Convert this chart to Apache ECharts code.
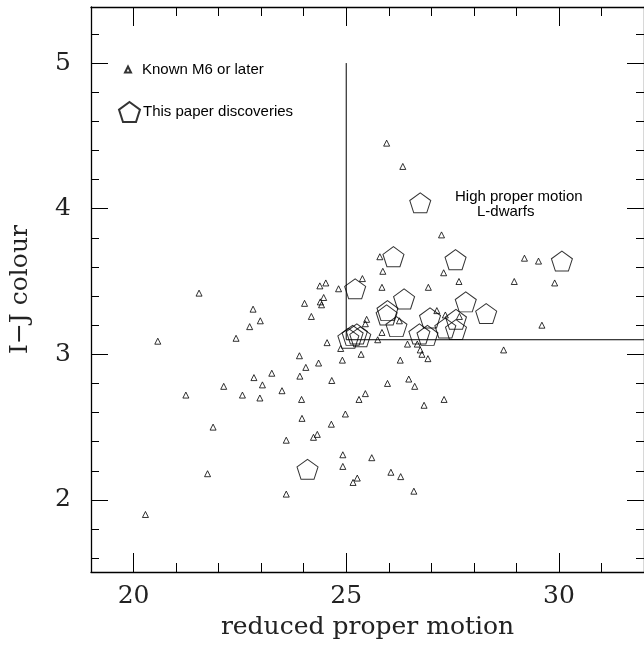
<!DOCTYPE html>
<html>
<head>
<meta charset="utf-8">
<script src="https://cdn.jsdelivr.net/npm/echarts@6/dist/echarts.min.js"></script>
<style>
  html, body { margin: 0; padding: 0; background: #fff; }
  #chart { width: 644px; height: 645px; }
</style>
</head>
<body>
<div id="chart"></div>
<script>
// Known late-M dwarfs: reduced proper motion vs I-J colour
const knownRPM = [21.54, 20.57, 22.81, 22.73, 22.98, 22.41, 24.38, 24.52, 24.82, 24.02,
  24.47, 24.39, 24.42, 24.18, 24.55, 24.87, 23.90, 24.05, 24.35, 23.91,
  23.25, 22.83, 23.03, 22.12, 21.23, 22.56, 22.97, 23.49, 23.95, 24.66,
  24.91, 25.35, 25.45, 25.30, 24.98, 24.65, 23.96, 21.87, 24.32, 24.23,
  25.38, 25.48, 25.45, 23.59, 24.92, 24.92, 25.60, 26.05, 25.16, 25.26,
  21.74, 23.59, 20.28, 25.84, 25.74, 26.44, 26.67, 26.74, 26.78, 26.92,
  26.27, 26.47, 26.61, 25.97, 26.83, 27.30, 28.70, 26.28, 26.59, 25.95,
  26.33, 27.24, 25.79, 25.86, 27.29, 27.65, 25.84, 26.93, 28.95, 29.19,
  29.52, 29.90, 29.60, 27.13, 27.66, 27.33, 26.25];
const knownIJ = [3.42, 3.09, 3.31, 3.19, 3.23, 3.11, 3.47, 3.49, 3.45, 3.35,
  3.39, 3.36, 3.34, 3.26, 3.08, 3.04, 2.99, 2.91, 2.94, 2.85,
  2.87, 2.84, 2.79, 2.78, 2.72, 2.72, 2.70, 2.75, 2.69, 2.82,
  2.96, 3.00, 2.73, 2.69, 2.59, 2.52, 2.56, 2.50, 2.45, 2.43,
  3.52, 3.24, 3.21, 2.41, 2.31, 2.23, 2.29, 2.19, 2.12, 2.15,
  2.18, 2.04, 1.90, 3.15, 3.10, 3.07, 3.07, 3.03, 3.00, 2.97,
  2.96, 2.83, 2.78, 2.80, 2.65, 2.69, 3.03, 2.16, 2.06, 4.45,
  4.29, 3.82, 3.67, 3.57, 3.56, 3.50, 3.46, 3.46, 3.50, 3.66,
  3.64, 3.49, 3.20, 3.30, 3.26, 3.27, 3.23];

// New discoveries
const newRPM = [24.09, 26.74, 26.11, 27.57, 30.07, 25.21, 26.36, 25.97, 25.95, 27.81,
  28.29, 26.18, 26.97, 26.72, 26.91, 27.33, 27.58, 27.58, 25.05, 25.15,
  25.25, 25.33];
const newIJ = [2.21, 4.04, 3.67, 3.65, 3.64, 3.45, 3.38, 3.30, 3.27, 3.36,
  3.28, 3.19, 3.25, 3.14, 3.13, 3.18, 3.24, 3.17, 3.11, 3.13,
  3.14, 3.12];

// Selection boundary: vertical at RPM = 25 up to I-J = 5, horizontal at I-J = 3.1
const cutRPM = [25, 25, 32];
const cutIJ = [5, 3.1, 3.1];

const xMajor = [20, 25, 30];
const xMinor = [20, 21, 22, 23, 24, 25, 26, 27, 28, 29, 30, 31];
const yMajor = [2, 3, 4, 5];
const yMinor = [1.6, 1.8, 2, 2.2, 2.4, 2.6, 2.8, 3, 3.2, 3.4, 3.6, 3.8, 4, 4.2, 4.4, 4.6, 4.8, 5, 5.2];

const zip = (a, b) => a.map((v, i) => [v, b[i]]);

const pentagon = 'path://M0,-100 L95.1,-30.9 L58.8,80.9 L-58.8,80.9 L-95.1,-30.9 Z';
const serif = 'DejaVu Serif';
const sans = 'Liberation Sans';

const X_MIN = 19, X_MAX = 32, Y_MIN = 1.505, Y_MAX = 5.385;

function xAxisDef(pos, ticks, len, withLine, labels) {
  return {
    type: 'value', position: pos, min: X_MIN, max: X_MAX,
    axisLine: { show: withLine, onZero: false, lineStyle: { color: '#000', width: 1.3 } },
    axisTick: { show: true, inside: true, length: len, customValues: ticks, lineStyle: { color: '#000', width: 1 } },
    axisLabel: labels ? { show: true, customValues: labels, margin: 12, color: '#222',
      fontFamily: serif, fontSize: 25 } : { show: false },
    splitLine: { show: false },
    name: labels ? 'reduced proper motion' : '',
    nameLocation: 'middle', nameGap: 43,
    nameTextStyle: { fontFamily: serif, fontSize: 25, color: '#222' }
  };
}
function yAxisDef(pos, ticks, len, withLine, labels) {
  return {
    type: 'value', position: pos, min: Y_MIN, max: Y_MAX,
    axisLine: { show: withLine, onZero: false, lineStyle: { color: '#000', width: 1.3 } },
    axisTick: { show: true, inside: true, length: len, customValues: ticks, lineStyle: { color: '#000', width: 1 } },
    axisLabel: labels ? { show: true, customValues: labels, margin: 20, color: '#222',
      fontFamily: serif, fontSize: 25 } : { show: false },
    splitLine: { show: false },
    name: labels ? 'I\u2212J colour' : '',
    nameLocation: 'middle', nameGap: 58,
    nameTextStyle: { fontFamily: serif, fontSize: 25, color: '#222' }
  };
}

const chart = echarts.init(document.getElementById('chart'), null, { renderer: 'canvas' });
chart.setOption({
  animation: false,
  backgroundColor: '#fff',
  grid: { left: 82, top: 7, width: 564, height: 566, containLabel: false },
  xAxis: [
    xAxisDef('bottom', xMinor, 9, true, xMajor),
    xAxisDef('bottom', xMajor, 19, false, null),
    xAxisDef('top', xMinor, 9, true, null),
    xAxisDef('top', xMajor, 19, false, null)
  ],
  yAxis: [
    yAxisDef('left', yMinor, 8, true, yMajor),
    yAxisDef('left', yMajor, 17, false, null),
    yAxisDef('right', yMinor, 8, true, null),
    yAxisDef('right', yMajor, 17, false, null)
  ],
  legend: [
    {
      data: ['Known M6 or later'], left: 119, top: 57, orient: 'vertical',
      itemWidth: 6, itemHeight: 6,
      textStyle: { fontFamily: sans, fontSize: 15, color: '#000', padding: [3, 0, 0, 6] }
    },
    {
      data: ['This paper discoveries'], left: 113, top: 96, orient: 'vertical',
      itemWidth: 21, itemHeight: 20,
      textStyle: { fontFamily: sans, fontSize: 15, color: '#000', padding: [3, 0, 0, -2] }
    }
  ],
  graphic: [
    { type: 'text', left: 455, top: 189,
      style: { text: 'High proper motion', fontFamily: sans, fontSize: 15, fill: '#000' } },
    { type: 'text', left: 477, top: 204,
      style: { text: 'L-dwarfs', fontFamily: sans, fontSize: 15, fill: '#000' } }
  ],
  series: [
    {
      name: 'cut', type: 'line', data: zip(cutRPM, cutIJ),
      showSymbol: false, symbol: 'none', silent: true,
      lineStyle: { color: '#000', width: 1 }
    },
    {
      name: 'Known M6 or later', type: 'scatter', data: zip(knownRPM, knownIJ),
      symbol: 'triangle', symbolSize: 6,
      itemStyle: { color: 'rgba(0,0,0,0)', borderColor: '#000', borderWidth: 1 }
    },
    {
      name: 'This paper discoveries', type: 'scatter', data: zip(newRPM, newIJ),
      symbol: pentagon, symbolSize: [21, 20],
      itemStyle: { color: 'rgba(0,0,0,0)', borderColor: '#000', borderWidth: 1 }
    }
  ]
});
</script>
</body>
</html>
